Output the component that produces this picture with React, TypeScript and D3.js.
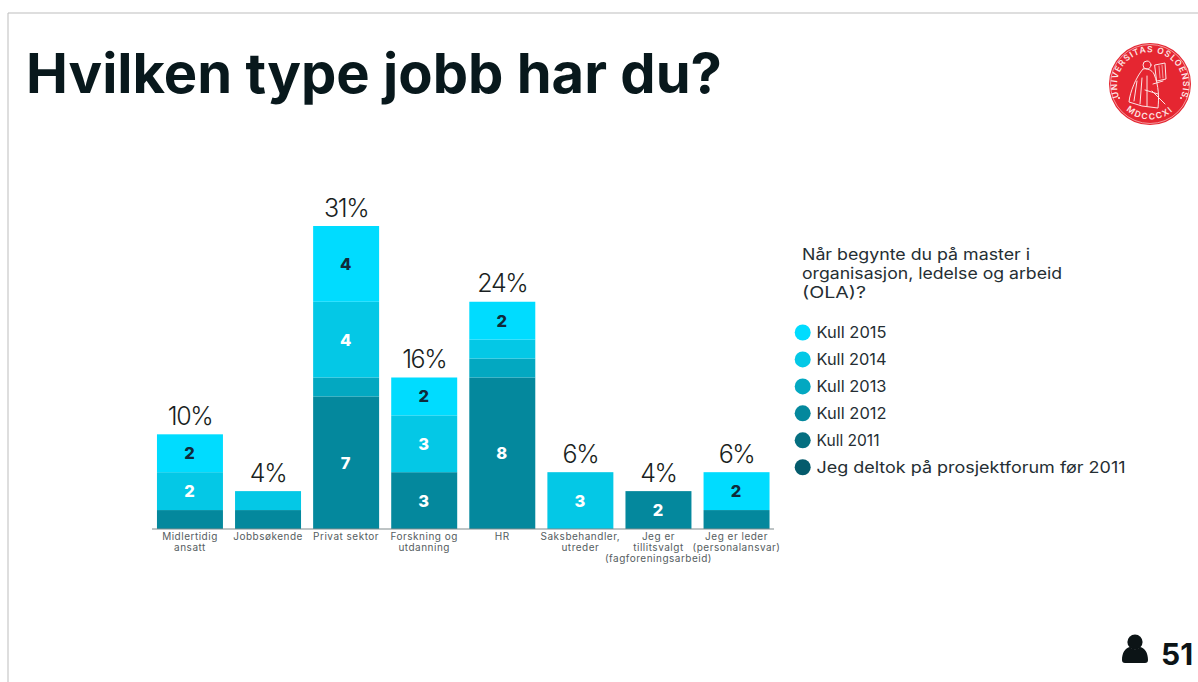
import React from "react";
import * as d3 from "d3";

const categories = ["Midlertidig ansatt", "Jobbsøkende", "Privat sektor", "Forskning og utdanning", "HR", "Saksbehandler, utreder", "Jeg er tillitsvalgt (fagforeningsarbeid)", "Jeg er leder (personalansvar)"];
const categoryLines = [["Midlertidig", "ansatt"], ["Jobbsøkende"], ["Privat sektor"], ["Forskning og", "utdanning"], ["HR"], ["Saksbehandler,", "utreder"], ["Jeg er", "tillitsvalgt", "(fagforeningsarbeid)"], ["Jeg er leder", "(personalansvar)"]];
const seriesNames = ["Jeg deltok på prosjektforum før 2011", "Kull 2011", "Kull 2012", "Kull 2013", "Kull 2014", "Kull 2015"];
const seriesColors = ["#045b6c", "#056f80", "#04889d", "#03a8c1", "#04c8e6", "#00dcff"];
const forum = [0, 0, 0, 0, 0, 0, 0, 0];
const kull2011 = [0, 0, 0, 0, 0, 0, 0, 0];
const kull2012 = [1, 1, 7, 3, 8, 0, 2, 1];
const kull2013 = [0, 0, 1, 0, 1, 0, 0, 0];
const kull2014 = [2, 1, 4, 3, 1, 3, 0, 0];
const kull2015 = [2, 0, 4, 2, 2, 0, 0, 2];
const totals = ["10%", "4%", "31%", "16%", "24%", "6%", "4%", "6%"];
const legendTitle = ["Når begynte du på master i", "organisasjon, ledelse og arbeid", "(OLA)?"];
const legendOrder = [5, 4, 3, 2, 1, 0];
const title = "Hvilken type jobb har du?";

const allSeries = [forum, kull2011, kull2012, kull2013, kull2014, kull2015];
const sans = "Inter, 'Noto Sans', sans-serif";
const ink = "#252e33";
const legendTitleWidths = [228, 260, 64];
const legendWidths = [70, 70, 70, 70, 63, 309];

export default function App() {
  const x = d3.scaleBand<number>().domain(d3.range(categories.length)).range([151.5, 775]).paddingInner(0.155).paddingOuter(0.07);
  const y = d3.scaleLinear().domain([0, 16]).range([529, 226]);
  const rows = categories.map((c, i) => {
    const o: Record<string, number> = { index: i };
    seriesNames.forEach((s, k) => (o[s] = allSeries[k][i]));
    return o;
  });
  const stacked = d3.stack<Record<string, number>>().keys(seriesNames)(rows);
  const labelColor = (k: number) => (k === 5 ? "#0f2a3a" : "#ffffff");

  return (
    <svg width={1198} height={682} style={{ position: "absolute", left: 0, top: 0, background: "#fff" }} fontFamily={sans}>
      <path d="M1198 13H8V682" fill="none" stroke="#bdbdbd" strokeWidth={1} />
      <text x={26} y={93} fontSize={55.5} fontWeight={700} fill="#08181c" textLength={696} lengthAdjust="spacingAndGlyphs">{title}</text>

      {stacked.map((layer, k) => (
        <g key={layer.key}>
          {layer.map((d, i) => {
            const v = d[1] - d[0];
            if (!v) return null;
            return (
              <g key={i}>
                <rect x={x(i)} width={x.bandwidth()} y={y(d[1])} height={y(d[0]) - y(d[1])} fill={seriesColors[k]} />
                {v >= 2 && (
                  <text x={x(i)! + x.bandwidth() / 2 - 0.5} y={(y(d[0]) + y(d[1])) / 2 + 6} textAnchor="middle" fontSize={16.5} fontWeight={800} fill={labelColor(k)}>{v}</text>
                )}
              </g>
            );
          })}
        </g>
      ))}

      {stacked[stacked.length - 1].map((d, i) => {
        const top = y(d3.sum(allSeries, (s) => s[i]));
        return (
          <text key={i} x={x(i)! + x.bandwidth() / 2} y={top - 9.5} textAnchor="middle" fontSize={25} fontWeight={300} fill="#1a1f22" letterSpacing={-1.4}>{totals[i]}</text>
        );
      })}

      <line x1={152} x2={774} y1={529} y2={529} stroke="#7f8a8c" strokeWidth={1.2} />
      {categoryLines.map((lines, i) => (
        <text key={i} textAnchor="middle" fontSize={10} fill="#555d61" letterSpacing={0.5}>
          {lines.map((l, j) => (
            <tspan key={j} x={x(i)! + x.bandwidth() / 2} y={540 + j * 10.8}>{l}</tspan>
          ))}
        </text>
      ))}

      {legendTitle.map((l, j) => (
        <text key={j} x={802} y={260 + j * 18.8} fontSize={16} fill={ink} textLength={legendTitleWidths[j]} lengthAdjust="spacingAndGlyphs">{l}</text>
      ))}
      {legendOrder.map((k, row) => (
        <g key={k}>
          <circle cx={802.7} cy={332.5 + row * 26.95} r={8} fill={seriesColors[k]} />
          <text x={816.5} y={338 + row * 26.95} fontSize={16} fill={ink} textLength={legendWidths[row]} lengthAdjust="spacingAndGlyphs">{seriesNames[k]}</text>
        </g>
      ))}

      <g transform="translate(1150,84)">
        <circle r={41} fill="#e52631" />
        <circle r={39.5} fill="none" stroke="#f9c9c9" strokeWidth={0.7} />
        <defs>
          <path id="sealTop" d="M-30 15A33 33 0 1 1 30 15" />
          <path id="sealBottom" d="M-25 25A35 35 0 0 0 25 25" />
        </defs>
        <text fontSize={8.5} fontWeight={600} fill="#fde5e5" letterSpacing={1}>
          <textPath href="#sealTop" startOffset="50%" textAnchor="middle">UNIVERSITAS OSLOENSIS</textPath>
        </text>
        <text fontSize={8.5} fontWeight={600} fill="#fde5e5" letterSpacing={1.6}>
          <textPath href="#sealBottom" startOffset="50%" textAnchor="middle">MDCCCXI</textPath>
        </text>
        <circle cx={-31} cy={14} r={1.1} fill="#fde5e5" />
        <circle cx={31} cy={14} r={1.1} fill="#fde5e5" />
        <g fill="none" stroke="#fde5e5" strokeWidth={1} strokeLinecap="round">
          <circle cx={-3} cy={-19} r={4} />
          <path d="M-7 -15C-14 -7 -20 8 -21 18L-8 22L8 24C9 14 9 2 4 -10C2 -14 -3 -16 -7 -15" />
          <path d="M-13 -3L-16 17M-8 -6L-10 20M-3 -8L-3 22M3 0L13 -3M2 7L15 20M-5 6L8 10" />
          <path d="M5 -19L15 -21L16 -5L7 -3Z" />
          <path d="M9 -18L10 -6M12 -19L13 -6" strokeWidth={0.6} />
        </g>
      </g>

      <g fill="#0c1416">
        <circle cx={1135} cy={642} r={7.6} />
        <path d="M1122 660C1122 653 1125 648 1130 647C1133 650 1137 650 1140 647C1145 648 1148 653 1148 660C1148 662 1147 663 1145 663H1125C1123 663 1122 662 1122 660Z" />
      </g>
      <text x={1161} y={665} fontSize={30} fontWeight={700} fill="#0c1416">51</text>
    </svg>
  );
}
